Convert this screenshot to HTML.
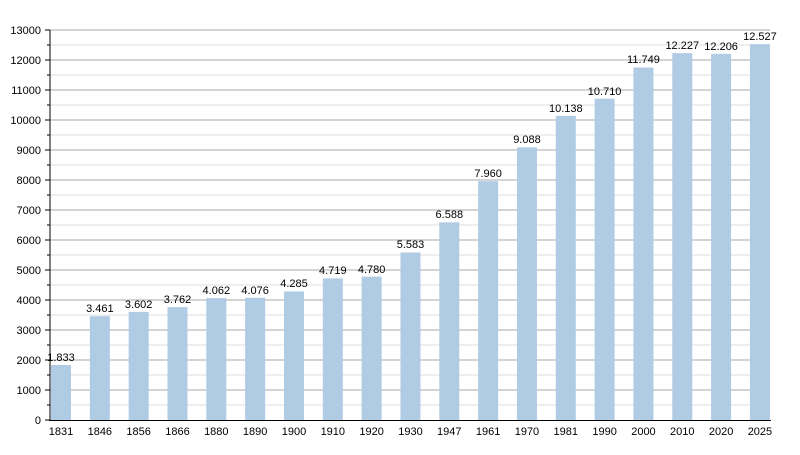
<!DOCTYPE html>
<html><head><style>body{margin:0;background:#fff}</style></head><body>
<svg width="800" height="450" xmlns="http://www.w3.org/2000/svg" font-family="Liberation Sans, sans-serif" font-size="11">
<g stroke="#ddd">
<line x1="50" x2="770" y1="405" y2="405"/><line x1="50" x2="770" y1="375" y2="375"/><line x1="50" x2="770" y1="345" y2="345"/><line x1="50" x2="770" y1="315" y2="315"/><line x1="50" x2="770" y1="285" y2="285"/><line x1="50" x2="770" y1="255" y2="255"/><line x1="50" x2="770" y1="225" y2="225"/><line x1="50" x2="770" y1="195" y2="195"/><line x1="50" x2="770" y1="165" y2="165"/><line x1="50" x2="770" y1="135" y2="135"/><line x1="50" x2="770" y1="105" y2="105"/><line x1="50" x2="770" y1="75" y2="75"/><line x1="50" x2="770" y1="45" y2="45"/>
</g>
<g stroke="#aaa">
<line x1="50" x2="770" y1="390" y2="390"/><line x1="50" x2="770" y1="360" y2="360"/><line x1="50" x2="770" y1="330" y2="330"/><line x1="50" x2="770" y1="300" y2="300"/><line x1="50" x2="770" y1="270" y2="270"/><line x1="50" x2="770" y1="240" y2="240"/><line x1="50" x2="770" y1="210" y2="210"/><line x1="50" x2="770" y1="180" y2="180"/><line x1="50" x2="770" y1="150" y2="150"/><line x1="50" x2="770" y1="120" y2="120"/><line x1="50" x2="770" y1="90" y2="90"/><line x1="50" x2="770" y1="60" y2="60"/><line x1="50" x2="770" y1="30" y2="30"/>
</g>
<g stroke="#000">
<line x1="45" x2="50" y1="420" y2="420"/><line x1="47" x2="50" y1="405" y2="405"/><line x1="45" x2="50" y1="390" y2="390"/><line x1="47" x2="50" y1="375" y2="375"/><line x1="45" x2="50" y1="360" y2="360"/><line x1="47" x2="50" y1="345" y2="345"/><line x1="45" x2="50" y1="330" y2="330"/><line x1="47" x2="50" y1="315" y2="315"/><line x1="45" x2="50" y1="300" y2="300"/><line x1="47" x2="50" y1="285" y2="285"/><line x1="45" x2="50" y1="270" y2="270"/><line x1="47" x2="50" y1="255" y2="255"/><line x1="45" x2="50" y1="240" y2="240"/><line x1="47" x2="50" y1="225" y2="225"/><line x1="45" x2="50" y1="210" y2="210"/><line x1="47" x2="50" y1="195" y2="195"/><line x1="45" x2="50" y1="180" y2="180"/><line x1="47" x2="50" y1="165" y2="165"/><line x1="45" x2="50" y1="150" y2="150"/><line x1="47" x2="50" y1="135" y2="135"/><line x1="45" x2="50" y1="120" y2="120"/><line x1="47" x2="50" y1="105" y2="105"/><line x1="45" x2="50" y1="90" y2="90"/><line x1="47" x2="50" y1="75" y2="75"/><line x1="45" x2="50" y1="60" y2="60"/><line x1="47" x2="50" y1="45" y2="45"/><line x1="45" x2="50" y1="30" y2="30"/>
</g>
<g text-anchor="end">
<text x="41" y="424">0</text><text x="41" y="394">1000</text><text x="41" y="364">2000</text><text x="41" y="334">3000</text><text x="41" y="304">4000</text><text x="41" y="274">5000</text><text x="41" y="244">6000</text><text x="41" y="214">7000</text><text x="41" y="184">8000</text><text x="41" y="154">9000</text><text x="41" y="124">10000</text><text x="41" y="94">11000</text><text x="41" y="64">12000</text><text x="41" y="34">13000</text>
</g>
<g fill="#b0cbe4">
<rect x="51" y="365.01" width="20" height="54.99"/>
<rect x="89.83" y="316.17" width="20" height="103.83"/>
<rect x="128.66" y="311.94" width="20" height="108.06"/>
<rect x="167.49" y="307.14" width="20" height="112.86"/>
<rect x="206.32" y="298.14" width="20" height="121.86"/>
<rect x="245.15" y="297.72" width="20" height="122.28"/>
<rect x="283.98" y="291.45" width="20" height="128.55"/>
<rect x="322.81" y="278.43" width="20" height="141.57"/>
<rect x="361.64" y="276.6" width="20" height="143.4"/>
<rect x="400.47" y="252.51" width="20" height="167.49"/>
<rect x="439.3" y="222.36" width="20" height="197.64"/>
<rect x="478.13" y="181.2" width="20" height="238.8"/>
<rect x="516.96" y="147.36" width="20" height="272.64"/>
<rect x="555.79" y="115.86" width="20" height="304.14"/>
<rect x="594.62" y="98.7" width="20" height="321.3"/>
<rect x="633.45" y="67.53" width="20" height="352.47"/>
<rect x="672.28" y="53.19" width="20" height="366.81"/>
<rect x="711.11" y="53.82" width="20" height="366.18"/>
<rect x="749.94" y="44.19" width="20" height="375.81"/>
</g>
<g text-anchor="middle">
<text x="61" y="361">1.833</text>
<text x="99.83" y="312">3.461</text>
<text x="138.66" y="308">3.602</text>
<text x="177.49" y="303">3.762</text>
<text x="216.32" y="294">4.062</text>
<text x="255.15" y="294">4.076</text>
<text x="293.98" y="287">4.285</text>
<text x="332.81" y="274">4.719</text>
<text x="371.64" y="273">4.780</text>
<text x="410.47" y="248">5.583</text>
<text x="449.3" y="218">6.588</text>
<text x="488.13" y="177">7.960</text>
<text x="526.96" y="143">9.088</text>
<text x="565.79" y="112">10.138</text>
<text x="604.62" y="95">10.710</text>
<text x="643.45" y="63">11.749</text>
<text x="682.28" y="49">12.227</text>
<text x="721.11" y="50">12.206</text>
<text x="759.94" y="40">12.527</text>
</g>
<g text-anchor="middle">
<text x="61" y="435">1831</text><text x="99.83" y="435">1846</text><text x="138.66" y="435">1856</text><text x="177.49" y="435">1866</text><text x="216.32" y="435">1880</text><text x="255.15" y="435">1890</text><text x="293.98" y="435">1900</text><text x="332.81" y="435">1910</text><text x="371.64" y="435">1920</text><text x="410.47" y="435">1930</text><text x="449.3" y="435">1947</text><text x="488.13" y="435">1961</text><text x="526.96" y="435">1970</text><text x="565.79" y="435">1981</text><text x="604.62" y="435">1990</text><text x="643.45" y="435">2000</text><text x="682.28" y="435">2010</text><text x="721.11" y="435">2020</text><text x="759.94" y="435">2025</text>
</g>
<line x1="50" x2="50" y1="30" y2="421" stroke="#000"/>
<line x1="49" x2="771" y1="420.5" y2="420.5" stroke="#000"/>
</svg>
</body></html>
